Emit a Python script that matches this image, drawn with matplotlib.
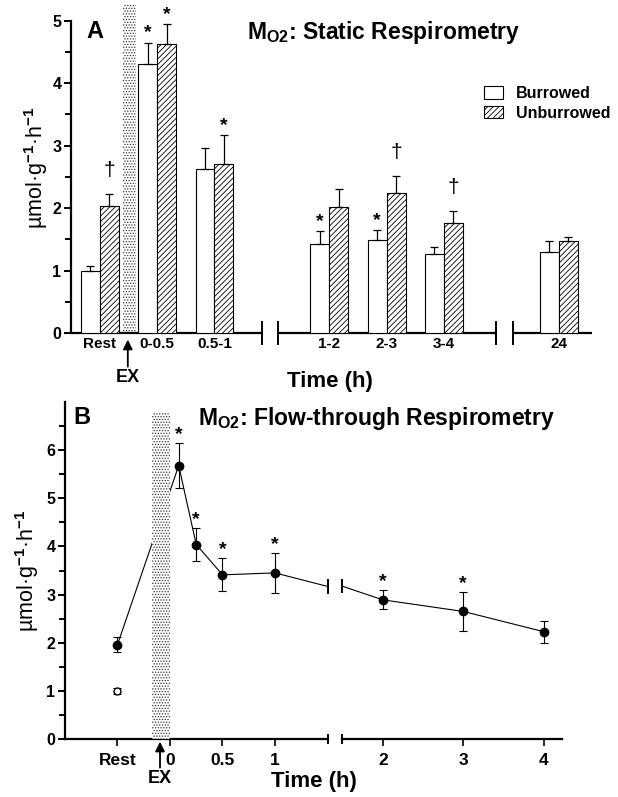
import numpy as np
import matplotlib.pyplot as plt
from matplotlib.patches import Patch

plt.rcParams['font.family'] = ['Liberation Sans', 'DejaVu Sans']
plt.rcParams['font.weight'] = 'bold'
plt.rcParams['mathtext.fontset'] = 'custom'
plt.rcParams['mathtext.rm'] = 'Liberation Sans:bold'
plt.rcParams['mathtext.bf'] = 'Liberation Sans:bold'
plt.rcParams['mathtext.default'] = 'bf'
plt.rcParams['hatch.linewidth'] = 0.6

# Panel A: static respirometry (bars)
groups = ['Rest', '0-0.5', '0.5-1', '1-2', '2-3', '3-4', '24']
group_pos = [0, 1, 2, 4, 5, 6, 8]
burrowed = [1.00, 4.30, 2.63, 1.43, 1.49, 1.27, 1.30]
burrowed_err = [0.08, 0.35, 0.33, 0.20, 0.16, 0.11, 0.17]
unburrowed = [2.03, 4.63, 2.70, 2.02, 2.24, 1.76, 1.47]
unburrowed_err = [0.20, 0.32, 0.47, 0.29, 0.28, 0.20, 0.07]
burrowed_sig = ['', '*', '', '*', '*', '', '']
unburrowed_sig = ['†', '*', '*', '', '†', '†', '']

# Panel B: flow-through respirometry (time in h)
flow_t = [0.083, 0.25, 0.5, 1, 2, 3, 4]
flow_mean = [5.68, 4.04, 3.41, 3.45, 2.89, 2.65, 2.23]
flow_err = [0.47, 0.34, 0.34, 0.42, 0.20, 0.40, 0.23]
flow_sig = ['*', '*', '*', '*', '*', '*', '']
rest_x = -0.5
rest_unb, rest_unb_err = 1.96, 0.15
rest_bur, rest_bur_err = 1.00, 0.06

W, H = 618, 797
fig = plt.figure(figsize=(W / 100, H / 100), dpi=100)


def px(l, t, r, b):
    return [l / W, 1 - b / H, (r - l) / W, (b - t) / H]


ylab = 'µmol·g$^{-1}$·h$^{-1}$'
stip = dict(facecolor='white', edgecolor='0.2', hatch='......', lw=0)


def mark(ax, x, top, s):
    if s == '*':
        ax.text(x, top + 0.02, s, ha='center', va='bottom', fontsize=14)
    else:
        ax.text(x, top + 0.22, s, ha='center', va='bottom', fontsize=15,
                fontweight='normal')


# ---------------- panel A ----------------
axA = fig.add_axes(px(71, 2, 592, 333))
axA.set_xlim(-0.5, 8.58)
axA.set_ylim(0, 5.3)
bw = 0.33
gp = np.array(group_pos)
axA.bar(gp - bw / 2, burrowed, bw, color='white', edgecolor='black', lw=0.8,
        yerr=[np.zeros(7), burrowed_err], capsize=3,
        error_kw=dict(lw=0.9, capthick=0.9), zorder=3)
axA.bar(gp + bw / 2, unburrowed, bw, color='white', edgecolor='black', lw=0.8,
        hatch='//////', yerr=[np.zeros(7), unburrowed_err], capsize=3,
        error_kw=dict(lw=0.9, capthick=0.9), zorder=3)
for x, v, e, s in zip(gp - bw / 2, burrowed, burrowed_err, burrowed_sig):
    if s:
        mark(axA, x, v + e, s)
for x, v, e, s in zip(gp + bw / 2, unburrowed, unburrowed_err, unburrowed_sig):
    if s:
        mark(axA, x, v + e, s)

axA.axvspan(0.40, 0.63, ymin=0, ymax=5.27 / 5.3, zorder=2, **stip)

for s in ['top', 'right', 'bottom']:
    axA.spines[s].set_visible(False)
axA.spines['left'].set_bounds(0, 5)
axA.spines['left'].set_linewidth(1.6)
axA.set_yticks(range(6))
axA.set_yticks(np.arange(0.5, 5, 1), minor=True)
axA.tick_params(axis='y', which='both', direction='out', width=1.4,
                labelsize=11.5, pad=2)
axA.tick_params(axis='y', which='major', length=5)
axA.tick_params(axis='y', which='minor', length=4)
axA.set_xticks(group_pos)
axA.set_xticklabels(groups)
axA.tick_params(axis='x', length=0, labelsize=11, pad=3)
axA.set_ylabel(ylab, fontsize=15.5, labelpad=2)

# broken x axis
xt = axA.get_xaxis_transform()
segs = [(-0.5, 2.83), (3.11, 6.91), (7.21, 8.58)]
for a, b in segs:
    axA.plot([a, b], [0, 0], color='black', lw=1.6, transform=xt,
             clip_on=False, solid_capstyle='butt')
for b in [2.83, 3.11, 6.91, 7.21]:
    axA.plot([b, b], [-0.032, 0.034], color='black', lw=1.4, transform=xt,
             clip_on=False)

axA.annotate('EX', xy=(0.49, -0.02), xytext=(0.49, -0.11),
             xycoords=xt, textcoords=xt, ha='center', va='top', fontsize=13,
             arrowprops=dict(arrowstyle='-|>', color='black', lw=1.3,
                             mutation_scale=14, shrinkA=0, shrinkB=0))
fig.text(330 / W, 1 - 381 / H, 'Time (h)', ha='center', va='center',
         fontsize=16)
fig.text(86 / W, 1 - 32 / H, 'A', ha='left', va='center', fontsize=17)
fig.text(247 / W, 1 - 33 / H, 'M$_{O2}$: Static Respirometry', ha='left',
         va='center', fontsize=16.5)

handles = [Patch(facecolor='white', edgecolor='black', lw=0.8,
                 label='Burrowed'),
           Patch(facecolor='white', edgecolor='black', lw=0.8,
                 hatch='//////', label='Unburrowed')]
axA.legend(handles=handles, loc='upper left',
           bbox_to_anchor=(484 / W, 1 - 86 / H), bbox_transform=fig.transFigure,
           frameon=False, handlelength=1.2, handleheight=0.8,
           handletextpad=0.8, labelspacing=0.3, borderpad=0, borderaxespad=0,
           prop=dict(weight='bold', size=11.5))

# ---------------- panel B ----------------
axL = fig.add_axes(px(65, 402, 328, 739))
axR = fig.add_axes(px(342, 402, 562, 739))
axL.set_xlim(-1.0, 1.505)
axR.set_xlim(1.49, 4.23)
line_x = [rest_x] + flow_t
line_y = [rest_unb] + flow_mean
for ax in (axL, axR):
    ax.set_ylim(0, 7)
    ax.plot(line_x, line_y, color='black', lw=0.8, zorder=2)
    ax.errorbar(flow_t, flow_mean, yerr=flow_err, fmt='o', color='black',
                ms=6, capsize=3, elinewidth=0.8, capthick=0.8, zorder=4)
    for x, v, e, s in zip(flow_t, flow_mean, flow_err, flow_sig):
        if s and ax.get_xlim()[0] < x < ax.get_xlim()[1]:
            ax.text(x, v + e + 0.0, s, ha='center', va='bottom', fontsize=14)
    for s in ['top', 'right']:
        ax.spines[s].set_visible(False)
    ax.spines['bottom'].set_linewidth(1.6)
    ax.tick_params(axis='x', direction='out', length=5, width=1.2,
                   labelsize=12.5, pad=5)

axL.errorbar([rest_x], [rest_unb], yerr=[rest_unb_err], fmt='o', color='black',
             ms=6, capsize=3, elinewidth=0.8, capthick=0.8, zorder=4)
axL.errorbar([rest_x], [rest_bur], yerr=[rest_bur_err], fmt='o', color='black',
             mfc='white', ms=5, capsize=3, elinewidth=0.8, capthick=0.8,
             zorder=4)
axL.axvspan(-0.17, 0.0, ymin=0, ymax=6.78 / 7, zorder=3, **stip)

axL.spines['left'].set_linewidth(1.6)
axL.set_yticks(range(7))
axL.set_yticks(np.arange(0.5, 7, 1), minor=True)
axL.tick_params(axis='y', which='both', direction='out', width=1.4,
                labelsize=11.5, pad=2)
axL.tick_params(axis='y', which='major', length=5)
axL.tick_params(axis='y', which='minor', length=4)
axL.set_ylabel(ylab, fontsize=15.5, labelpad=4)
axL.set_xticks([rest_x, 0, 0.5, 1])
axL.set_xticklabels(['Rest', '0', '0.5', '1'])
axR.set_xticks([2, 3, 4])
axR.set_xticklabels(['2', '3', '4'])
axR.spines['left'].set_visible(False)
axR.set_yticks([])

# break marks on axis and line
for ax, xb in ((axL, 1.505), (axR, 1.49)):
    t = ax.get_xaxis_transform()
    ax.plot([xb, xb], [-0.012, 0.012], color='black', lw=1.4, transform=t,
            clip_on=False)
    yb = np.interp(xb, line_x, line_y)
    ax.plot([xb, xb], [yb - 0.13, yb + 0.13], color='black', lw=1.4,
            clip_on=False)

tL = axL.get_xaxis_transform()
axL.annotate('EX', xy=(-0.095, -0.008), xytext=(-0.095, -0.093),
             xycoords=tL, textcoords=tL, ha='center', va='top', fontsize=13,
             arrowprops=dict(arrowstyle='-|>', color='black', lw=1.3,
                             mutation_scale=14, shrinkA=0, shrinkB=0))
fig.text(314 / W, 1 - 782 / H, 'Time (h)', ha='center', va='center',
         fontsize=16)
fig.text(73 / W, 1 - 417 / H, 'B', ha='left', va='center', fontsize=17)
fig.text(198 / W, 1 - 418 / H, 'M$_{O2}$: Flow-through Respirometry',
         ha='left', va='center', fontsize=16.5)

fig.savefig('out.png', dpi=100)
